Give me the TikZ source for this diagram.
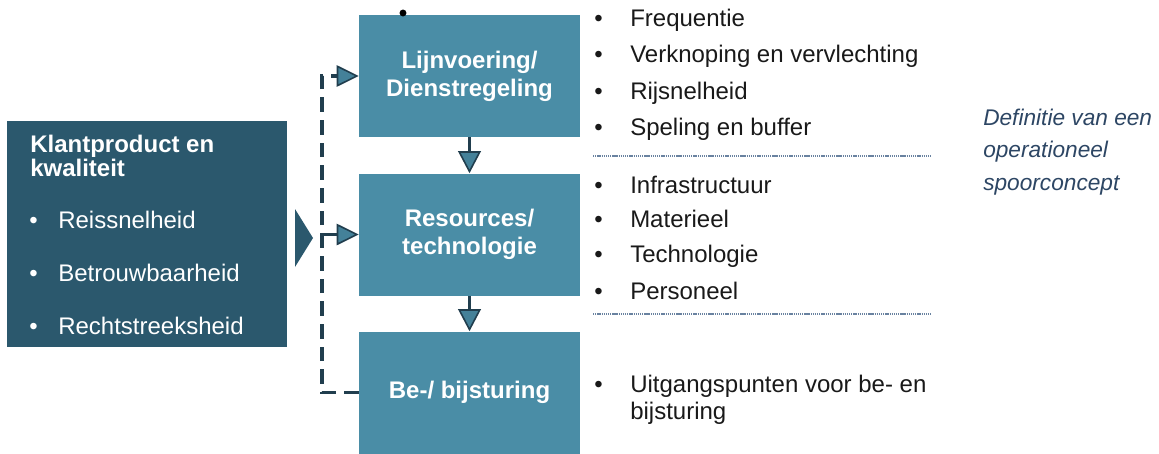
\documentclass[tikz,border=0pt]{standalone}
\usepackage{fontspec}
\setmainfont{Liberation Sans}
\usetikzlibrary{arrows.meta}

\definecolor{donker}{RGB}{43,88,109}
\definecolor{licht}{RGB}{74,141,166}
\definecolor{pijlkleur}{RGB}{33,62,78}
\definecolor{scheidkleur}{RGB}{105,130,160}
\definecolor{notitiekleur}{RGB}{45,70,100}
\definecolor{tekstkleur}{RGB}{25,25,25}

\tikzset{
  blok/.style={fill=licht, minimum width=165.75pt, minimum height=91.5pt,
    inner sep=0pt, text=white, align=center,
    font=\fontsize{18}{21}\selectfont\bfseries},
  wittekst/.style={inner sep=0pt, text=white, font=\fontsize{18}{21}\selectfont},
  lijsttekst/.style={inner sep=0pt, anchor=base west, text=tekstkleur,
    font=\fontsize{18}{21}\selectfont},
  pijlkop/.style={-{Triangle[length=16.5pt, width=17pt, fill=licht!85!pijlkleur, line width=1.2pt]}},
  doorstroom/.style={draw=pijlkleur, line width=2.8pt, pijlkop},
  streep/.style={draw=pijlkleur, line width=2.6pt, dash pattern=on 11pt off 6pt},
  streepkop/.style={-{Triangle[length=16.5pt, width=16pt, fill=licht!85!pijlkleur, line width=1.2pt]}},
  scheidslijn/.style={draw=scheidkleur, line width=1pt, dash pattern=on 1pt off 0.6pt}
}

\begin{document}
\begin{tikzpicture}[x=0.75pt, y=-0.75pt]
  \useasboundingbox (0,0) rectangle (1159,453);

  % Linker blok: klantproduct
  \node[fill=donker, minimum width=210pt, minimum height=169.5pt, inner sep=0pt] (klant) at (147,234) {};
  \node[wittekst, anchor=base west, font=\fontsize{18}{21}\selectfont\bfseries] (klanttitel1) at (30,152) {Klantproduct en};
  \node[wittekst, anchor=base west, font=\fontsize{18}{21}\selectfont\bfseries] (klanttitel2) at (30,176) {kwaliteit};
  \foreach \y/\txt [count=\i] in {228/Reissnelheid, 281/Betrouwbaarheid, 334/Rechtstreeksheid}
    \node[wittekst, anchor=base west] (kwal\i) at (29,\y) {\makebox[21.75pt][l]{\textbullet}\txt};
  \fill[donker] (295,209) -- (313,238) -- (295,267) -- cycle;

  % Drie blokken
  \node[blok] (lijn) at (469.5,76) {Lijnvoering/\\Dienstregeling};
  \node[blok] (res) at (469.5,234.5) {Resources/\\technologie};
  \node[blok] (bij) at (469.5,392.5) {Be-/ bijsturing};
  \fill (403,13) circle (2.6pt);

  % Pijlen tussen blokken
  \draw[doorstroom] (lijn) -- (res);
  \draw[doorstroom] (res) -- (bij);

  % Terugkoppeling
  \coordinate (sonder) at (322,392.5);
  \coordinate (sboven) at (322,76);
  \coordinate (smidden) at (322,234.5);
  \draw[streep, streepkop] (bij.west) -- (sonder) -- (sboven) -- (lijn.west);
  \draw[streep, streepkop] (smidden) -- (res.west);

  % Toelichting per blok
  \foreach \y/\txt [count=\i] in {27/Frequentie, 63/Verknoping en vervlechting, 99/Rijsnelheid,
      135/Speling en buffer, 193/Infrastructuur, 227/Materieel, 262/Technologie,
      299/Personeel, 392/Uitgangspunten voor be- en}
    \node[lijsttekst] (item\i) at (594,\y) {\makebox[27pt][l]{\textbullet}\txt};
  \node[lijsttekst] (item10) at (630,419) {bijsturing};
  \draw[scheidslijn] (593,156) -- (932,156);
  \draw[scheidslijn] (593,314) -- (932,314);

  % Notitie rechts
  \node[inner sep=0pt, anchor=base west, text=notitiekleur, font=\fontsize{17}{24}\selectfont\itshape] (def1) at (983,125) {Definitie van een};
  \node[inner sep=0pt, anchor=base west, text=notitiekleur, font=\fontsize{17}{24}\selectfont\itshape] (def2) at (983,157) {operationeel};
  \node[inner sep=0pt, anchor=base west, text=notitiekleur, font=\fontsize{17}{24}\selectfont\itshape] (def3) at (983,190) {spoorconcept};
\end{tikzpicture}
\end{document}
